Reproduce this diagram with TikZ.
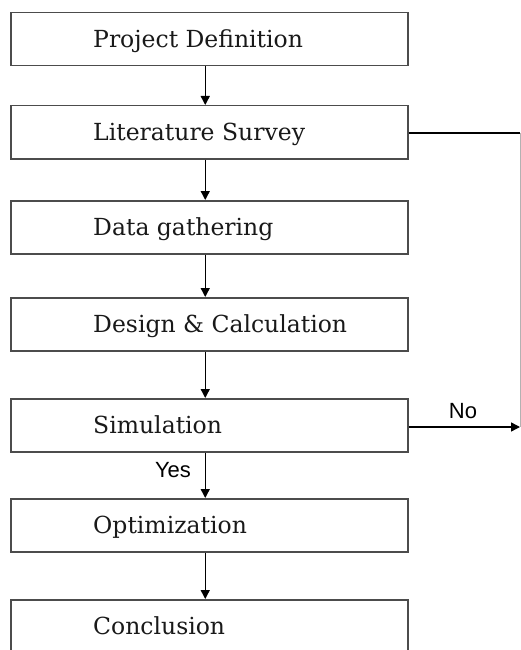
\documentclass[tikz,border=0pt]{standalone}
\usepackage{fontspec}
\setmainfont{DejaVu Serif}
\newfontfamily\lblfont{Liberation Sans}
\usetikzlibrary{arrows.meta}
\begin{document}
\begin{tikzpicture}[x=1pt,y=-1pt,
  stepbox/.style={draw=black!70, line width=1.5pt, minimum width=397pt, minimum height=53pt, inner sep=0pt, anchor=north west},
  steptext/.style={anchor=base west, inner sep=0pt, text=black!90, font=\fontsize{23.5}{26}\selectfont},
  flow/.style={line width=1.4pt, -{Triangle[width=9pt,length=9pt]}},
  yn/.style={font=\lblfont\fontsize{22}{24}\selectfont, inner sep=0pt}]
\useasboundingbox (0,0) rectangle (521,650);
\clip (0,0) rectangle (521,650);
\fill[white] (0,0) rectangle (521,650);
\node[stepbox] (b1) at (10,12) {};
\node[stepbox] (b2) at (10,105) {};
\node[stepbox] (b3) at (10,200) {};
\node[stepbox] (b4) at (10,297) {};
\node[stepbox] (b5) at (10,398) {};
\node[stepbox] (b6) at (10,498) {};
\node[stepbox] (b7) at (10,599) {};
\node[steptext] (t1) at ([xshift=83pt,yshift=-8.5pt]b1.west) {Project Definition};
\node[steptext] (t2) at ([xshift=83pt,yshift=-8.5pt]b2.west) {Literature Survey};
\node[steptext] (t3) at ([xshift=83pt,yshift=-8.5pt]b3.west) {Data gathering};
\node[steptext] (t4) at ([xshift=83pt,yshift=-8.5pt]b4.west) {Design \& Calculation};
\node[steptext] (t5) at ([xshift=83pt,yshift=-8.5pt]b5.west) {Simulation};
\node[steptext] (t6) at ([xshift=83pt,yshift=-8.5pt]b6.west) {Optimization};
\node[steptext] (t7) at ([xshift=83pt,yshift=-8.5pt]b7.west) {Conclusion};
\foreach \a/\b in {b1/b2,b2/b3,b3/b4,b4/b5,b5/b6,b6/b7}
  \draw[flow] ([xshift=-4pt]\a.south) -- ([xshift=-4pt]\b.north);
\coordinate (c1) at (520,133);
\coordinate (c2) at (520,427);
\draw[line width=1.3pt] (b2.east |- c1) -- (c1);
\draw[line width=1pt, black!30] (c1) -- (c2);
\draw[flow] (b5.east |- c2) -- (c2);
\node[yn] (no) at (463,411) {No};
\node[yn] (yes) at (173,470) {Yes};
\end{tikzpicture}
\end{document}
